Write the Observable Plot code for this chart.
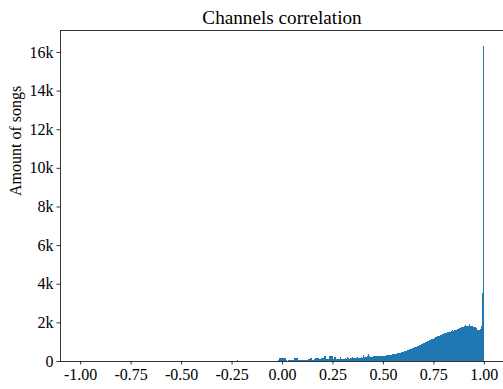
<!DOCTYPE html>
<html><head><meta charset="utf-8">
<script src="https://cdn.jsdelivr.net/npm/d3@7"></script>
<script src="https://cdn.jsdelivr.net/npm/@observablehq/plot@0.6"></script>
<style>body{margin:0;background:#fff}</style>
</head><body><div id="chart"></div>
<script>
const title = "Channels correlation";
const yLabel = "Amount of songs";
const binWidth = 0.005;
const firstBinStart = -0.02;
const counts = [
  40,130,60,140,
  150,90,140,40,20,0,40,30,45,20,40,50,150,40,130,30,50,40,60,45,
  50,55,40,60,50,55,120,60,130,50,70,60,80,130,90,140,100,110,90,150,
  100,130,260,90,70,110,90,240,100,260,80,120,200,100,90,110,100,190,110,100,
  120,110,130,120,200,130,120,140,130,200,140,150,140,160,210,150,170,160,200,180,
  300,190,200,230,250,345,260,230,220,230,250,240,260,250,270,260,260,270,280,270,
  270,270,280,300,290,300,320,310,330,350,350,360,380,370,400,420,430,440,460,470,
  480,500,520,540,550,580,600,610,640,660,690,700,730,750,770,800,830,850,880,900,
  915,950,980,1000,1030,1050,1080,1100,1120,1140,1160,1200,1230,1260,1300,1280,1320,1350,1370,1390,
  1400,1440,1420,1470,1500,1490,1520,1560,1580,1570,1600,1610,1620,1650,1680,1690,1700,1750,1760,1750,
  1800,1860,1790,1820,1810,1900,1830,1800,1790,1760,1780,1760,1700,1620,1600,1610,1640,1800,3500,16320
];
const outlierBinStarts = [-0.225];
const outlierCounts = [30];
const xTicks = [-1, -0.75, -0.5, -0.25, 0, 0.25, 0.5, 0.75, 1];
const yTicks = [0, 2000, 4000, 6000, 8000, 10000, 12000, 14000, 16000];

const bars = counts.map((c, i) => ({x1: firstBinStart + i * binWidth, x2: firstBinStart + (i + 1) * binWidth, y: c}))
  .concat(outlierBinStarts.map((s, i) => ({x1: s, x2: s + binWidth, y: outlierCounts[i]})));

const chart = Plot.plot({
  width: 503, height: 389,
  marginTop: 30, marginBottom: 28, marginLeft: 60, marginRight: 0,
  style: {fontFamily: "Liberation Serif", fontSize: "16px", background: "white", overflow: "visible", color: "black"},
  x: {domain: [-1.1, 1.095]},
  y: {domain: [0, 17136]},
  marks: [
    Plot.rectY(bars, {x1: "x1", x2: "x2", y: "y", fill: "#1f77b4", insetLeft: 0, insetRight: -0.6, shapeRendering: "crispEdges"}),
    Plot.frame({anchor: "top", stroke: "black", strokeWidth: 0.8}),
    Plot.frame({anchor: "left", stroke: "black", strokeWidth: 0.8}),
    Plot.frame({anchor: "bottom", stroke: "black", strokeWidth: 0.8}),
    Plot.axisX({ticks: xTicks, tickSize: 3.5, tickPadding: 3.5, tickFormat: d => d.toFixed(2), label: null, fontSize: 16, strokeWidth: 0.8}),
    Plot.axisY({ticks: yTicks, tickSize: 3.5, tickPadding: 3.5, tickFormat: d => d === 0 ? "0" : (d / 1000) + "k", label: null, fontSize: 16, strokeWidth: 0.8}),
    Plot.text([title], {frameAnchor: "top", lineAnchor: "middle", dy: -13, fontSize: 19.2, text: d => d}),
    Plot.text([yLabel], {frameAnchor: "left", lineAnchor: "middle", dx: -45, rotate: -90, fontSize: 16, text: d => d})
  ]
});
document.getElementById("chart").appendChild(chart);
</script>
</body></html>
